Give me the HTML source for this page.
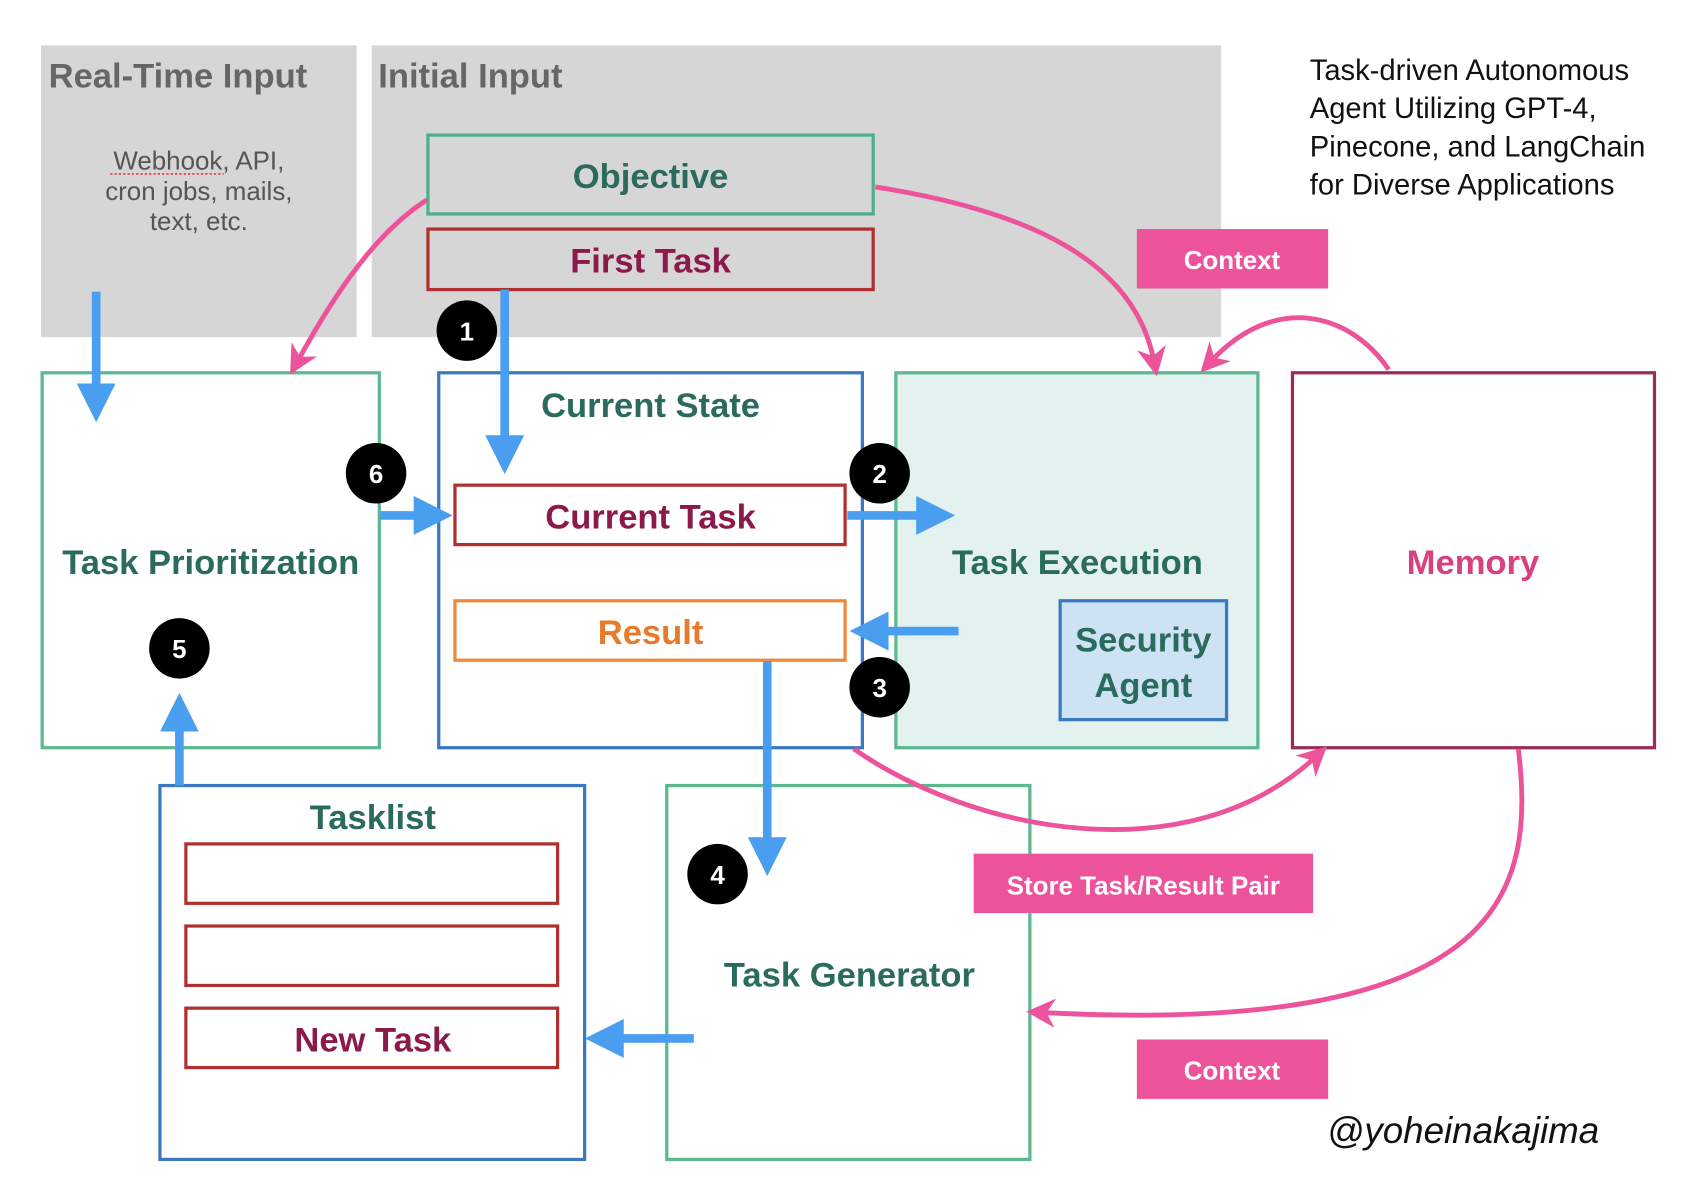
<!DOCTYPE html>
<html><head><meta charset="utf-8"><style>
html,body{margin:0;padding:0;background:#fff;}
svg{display:block;}
text{font-family:"Liberation Sans",sans-serif;}
</style></head><body>
<svg width="1688" height="1194" viewBox="0 0 1562 1105" preserveAspectRatio="none" xmlns="http://www.w3.org/2000/svg">
<defs>
<marker id="bh" viewBox="0 0 10 10" refX="2" refY="5" markerWidth="4.5" markerHeight="4.5" orient="auto" markerUnits="strokeWidth"><path d="M0,0 L10,5 L0,10 z" fill="#4a9ef0"/></marker>
<marker id="ph" viewBox="0 0 10 10" refX="5" refY="5" markerWidth="6" markerHeight="6" orient="auto" markerUnits="strokeWidth"><path d="M0,0 L10,5 L0,10 L3,5 z" fill="#ec539b"/></marker>
</defs>
<rect x="38" y="42" width="292" height="270" fill="#d6d6d6"/>
<rect x="344" y="42" width="786" height="270" fill="#d6d6d6"/>
<text x="45" y="81" font-size="32" font-weight="bold" fill="#666">Real-Time Input</text>
<text x="350" y="81" font-size="32" font-weight="bold" fill="#666">Initial Input</text>
<g font-size="24" fill="#555" text-anchor="middle">
<text x="184" y="157">Webhook, API,</text>
<text x="184" y="185">cron jobs, mails,</text>
<text x="184" y="213">text, etc.</text>
</g>
<line x1="102" y1="161" x2="207" y2="161" stroke="#e33" stroke-width="1.5" stroke-dasharray="2,2"/>
<rect x="396" y="125" width="412" height="73" fill="#d6d6d6" stroke="#4caf8a" stroke-width="3"/>
<text x="602" y="174" font-size="32" font-weight="bold" fill="#2b6b5e" text-anchor="middle">Objective</text>
<rect x="396" y="212" width="412" height="56" fill="#d6d6d6" stroke="#b03030" stroke-width="3"/>
<text x="602" y="252" font-size="32" font-weight="bold" fill="#8b1a4a" text-anchor="middle">First Task</text>
<g font-size="27" fill="#111">
<text x="1212" y="74">Task-driven Autonomous</text>
<text x="1212" y="109">Agent Utilizing GPT-4,</text>
<text x="1212" y="145">Pinecone, and LangChain</text>
<text x="1212" y="180">for Diverse Applications</text>
</g>
<rect x="1052" y="212" width="177" height="55" fill="#ec539b"/>
<text x="1140" y="249" font-size="24" font-weight="bold" fill="#fff" text-anchor="middle">Context</text>

<rect x="39" y="345" width="312" height="347" fill="#fff" stroke="#5cb88e" stroke-width="3"/>
<text x="195" y="531" font-size="32" font-weight="bold" fill="#2b6b5e" text-anchor="middle">Task Prioritization</text>
<rect x="406" y="345" width="392" height="347" fill="#fff" stroke="#3a78c0" stroke-width="3"/>
<text x="602" y="386" font-size="32" font-weight="bold" fill="#2b6b5e" text-anchor="middle">Current State</text>
<rect x="421" y="449" width="361" height="55" fill="#fff" stroke="#b03030" stroke-width="3"/>
<text x="602" y="489" font-size="32" font-weight="bold" fill="#8b1a4a" text-anchor="middle">Current Task</text>
<rect x="421" y="556" width="361" height="55" fill="#fff" stroke="#f08a3a" stroke-width="3"/>
<text x="602" y="596" font-size="32" font-weight="bold" fill="#e87a2a" text-anchor="middle">Result</text>
<rect x="829" y="345" width="335" height="347" fill="#e3f1ef" stroke="#5cb88e" stroke-width="3"/>
<text x="997" y="531" font-size="32" font-weight="bold" fill="#2b6b5e" text-anchor="middle">Task Execution</text>
<rect x="981" y="556" width="154" height="110" fill="#cde3f3" stroke="#3a78c0" stroke-width="3"/>
<text x="1058" y="603" font-size="32" font-weight="bold" fill="#2b6b5e" text-anchor="middle">Security</text>
<text x="1058" y="645" font-size="32" font-weight="bold" fill="#2b6b5e" text-anchor="middle">Agent</text>
<rect x="1196" y="345" width="335" height="347" fill="#fff" stroke="#9b2c5a" stroke-width="3"/>
<text x="1363" y="531" font-size="32" font-weight="bold" fill="#d9407f" text-anchor="middle">Memory</text>

<rect x="148" y="727" width="393" height="346" fill="#fff" stroke="#3a78c0" stroke-width="3"/>
<text x="345" y="767" font-size="32" font-weight="bold" fill="#2b6b5e" text-anchor="middle">Tasklist</text>
<rect x="172" y="781" width="344" height="55" fill="#fff" stroke="#b03030" stroke-width="3"/>
<rect x="172" y="857" width="344" height="55" fill="#fff" stroke="#b03030" stroke-width="3"/>
<rect x="172" y="933" width="344" height="55" fill="#fff" stroke="#b03030" stroke-width="3"/>
<text x="345" y="973" font-size="32" font-weight="bold" fill="#8b1a4a" text-anchor="middle">New Task</text>
<rect x="617" y="727" width="336" height="346" fill="#fff" stroke="#5cb88e" stroke-width="3"/>
<text x="786" y="913" font-size="32" font-weight="bold" fill="#2b6b5e" text-anchor="middle">Task Generator</text>

<rect x="901" y="790" width="314" height="55" fill="#ec539b"/>
<text x="1058" y="828" font-size="24" font-weight="bold" fill="#fff" text-anchor="middle">Store Task/Result Pair</text>
<rect x="1052" y="962" width="177" height="55" fill="#ec539b"/>
<text x="1140" y="999" font-size="24" font-weight="bold" fill="#fff" text-anchor="middle">Context</text>
<text x="1228" y="1058" font-size="34" fill="#111" font-style="italic" font-family="'DejaVu Sans',sans-serif">@yoheinakajima</text>

<g stroke="#4a9ef0" stroke-width="8" fill="none">
<line x1="89" y1="270" x2="89" y2="362" marker-end="url(#bh)"/>
<line x1="467" y1="268" x2="467" y2="410" marker-end="url(#bh)"/>
<line x1="352" y1="477" x2="390" y2="477" marker-end="url(#bh)"/>
<line x1="784" y1="477" x2="855" y2="477" marker-end="url(#bh)"/>
<line x1="887" y1="584" x2="815" y2="584" marker-end="url(#bh)"/>
<line x1="710" y1="612" x2="710" y2="782" marker-end="url(#bh)"/>
<line x1="642" y1="961" x2="570" y2="961" marker-end="url(#bh)"/>
<line x1="166" y1="727" x2="166" y2="670" marker-end="url(#bh)"/>
</g>
<g stroke="#ec539b" stroke-width="4.5" fill="none">
<path d="M395,185 C340,220 300,290 275,335" marker-end="url(#ph)"/>
<path d="M810,173 C950,195 1050,240 1068,335" marker-end="url(#ph)"/>
<path d="M1285,342 C1250,290 1180,270 1120,335" marker-end="url(#ph)"/>
<path d="M790,693 C900,770 1100,810 1218,700" marker-end="url(#ph)"/>
<path d="M1405,693 C1420,820 1400,960 963,937" marker-end="url(#ph)"/>
</g>
<g font-size="24" font-weight="bold" fill="#fff" text-anchor="middle">
<circle cx="432" cy="306" r="28" fill="#000"/><text x="432" y="315">1</text>
<circle cx="814" cy="438" r="28" fill="#000"/><text x="814" y="447">2</text>
<circle cx="814" cy="636" r="28" fill="#000"/><text x="814" y="645">3</text>
<circle cx="664" cy="809" r="28" fill="#000"/><text x="664" y="818">4</text>
<circle cx="166" cy="600" r="28" fill="#000"/><text x="166" y="609">5</text>
<circle cx="348" cy="438" r="28" fill="#000"/><text x="348" y="447">6</text>
</g>
</svg>
</body></html>
